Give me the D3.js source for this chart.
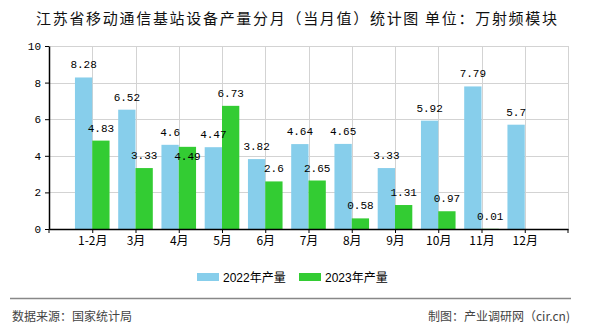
<!DOCTYPE html>
<html>
<head>
<meta charset="utf-8">
<script src="https://cdn.jsdelivr.net/npm/d3@7"></script>
<style>
  html, body { margin: 0; padding: 0; background: #fff; }
  svg { display: block; }
</style>
</head>
<body>
<svg id="chart" width="590" height="330"></svg>
<script>
// Monthly output of mobile base-station equipment in Jiangsu (10k RF modules)
const months = ["1-2月", "3月", "4月", "5月", "6月", "7月", "8月", "9月", "10月", "11月", "12月"];
const output2022 = [8.28, 6.52, 4.6, 4.47, 3.82, 4.64, 4.65, 3.33, 5.92, 7.79, 5.7];
const output2023 = [4.83, 3.33, 4.49, 6.73, 2.6, 2.65, 0.58, 1.31, 0.97, 0.01, null];
const seriesNames = ["2022年产量", "2023年产量"];
const seriesColors = ["#87CEEB", "#33CC33"];
const yTicks = [0, 2, 4, 6, 8, 10];

const titleText = "江苏省移动通信基站设备产量分月（当月值）统计图 单位：万射频模块";
const sourceText = "数据来源：国家统计局";
const creditText = "制图：产业调研网（cir.cn)";

const svg = d3.select("#chart");
const plot = { left: 49, right: 568, top: 46, bottom: 229 };
const cjk = "'Noto Sans CJK SC', 'Noto Sans', sans-serif";
const mono = "'Liberation Mono', 'DejaVu Sans Mono', monospace";

const x = d3.scalePoint().domain(months).range([plot.left, plot.right]).padding(1);
const y = d3.scaleLinear().domain([0, 10]).range([plot.bottom, plot.top]);
const step = x.step();
const barW = step * 0.4;

// title
svg.append("text")
  .attr("x", 36).attr("y", 24)
  .attr("textLength", 521).attr("lengthAdjust", "spacing")
  .style("font-family", cjk).style("font-size", "15px").attr("fill", "#111")
  .text(titleText);

// grid
const grid = svg.append("g");
grid.selectAll("line.h").data(yTicks.filter(d => d > 0)).join("line")
  .attr("x1", plot.left).attr("x2", plot.right)
  .attr("y1", d => Math.round(y(d)) + 0.5).attr("y2", d => Math.round(y(d)) + 0.5)
  .attr("stroke", "#d3d3d3").attr("stroke-width", 1);
const vPos = months.map(m => x(m)).concat([plot.right]);
grid.selectAll("line.v").data(vPos).join("line")
  .attr("x1", d => Math.round(d) + 0.5).attr("x2", d => Math.round(d) + 0.5)
  .attr("y1", plot.top).attr("y2", plot.bottom)
  .attr("stroke", "#d3d3d3").attr("stroke-width", 1);

// bars
const series = [output2022, output2023];
series.forEach((vals, si) => {
  svg.append("g").selectAll("rect")
    .data(months.map((m, i) => ({ m, v: vals[i] })).filter(d => d.v != null))
    .join("rect")
    .attr("x", d => x(d.m) + (si === 0 ? -barW : 0))
    .attr("width", barW)
    .attr("y", d => y(d.v))
    .attr("height", d => y(0) - y(d.v))
    .attr("fill", seriesColors[si]);
});

// value labels; a green label that would collide with the blue one drops below it
const labels = [];
months.forEach((m, i) => {
  const bY = y(output2022[i]) - 9;
  labels.push({ x: x(m) - barW / 2, y: bY, t: output2022[i] });
  if (output2023[i] != null) {
    let gY = y(output2023[i]) - 9;
    const gx = x(m) + barW / 2;
    if (Math.abs(gY - bY) < 16) gY = bY + 24;
    labels.push({ x: gx, y: gY, t: output2023[i] });
  }
});
svg.append("g").selectAll("text").data(labels).join("text")
  .attr("x", d => d.x).attr("y", d => d.y)
  .attr("text-anchor", "middle")
  .style("font-family", mono).style("font-size", "11px").attr("fill", "#000")
  .text(d => String(d.t));

// axes
const yAxis = svg.append("g").attr("transform", `translate(${plot.left},0)`)
  .call(d3.axisLeft(y).tickValues(yTicks).tickSize(4).tickSizeOuter(0).tickFormat(d3.format("d")));
yAxis.select(".domain").attr("stroke", "#000").attr("stroke-width", 1.5);
yAxis.selectAll(".tick line").attr("stroke", "#000");
yAxis.selectAll(".tick text").attr("x", -8)
  .style("font-family", mono).style("font-size", "11px").attr("fill", "#000");

const xAxis = svg.append("g").attr("transform", `translate(0,${plot.bottom})`)
  .call(d3.axisBottom(x).tickSize(4).tickSizeOuter(0));
xAxis.select(".domain").attr("stroke", "#000").attr("stroke-width", 1.5);
xAxis.selectAll(".tick line").attr("stroke", "#000");
xAxis.selectAll(".tick text").attr("y", 7)
  .style("font-family", cjk).style("font-size", "12px").attr("fill", "#000");
// boundary ticks at both plot edges
xAxis.selectAll("line.edge").data([plot.left, plot.right]).join("line")
  .attr("class", "edge")
  .attr("x1", d => d).attr("x2", d => d).attr("y1", 0).attr("y2", 4)
  .attr("stroke", "#000");

// legend
const legendX = [197, 299];
const lg = svg.append("g");
seriesNames.forEach((name, i) => {
  lg.append("rect").attr("x", legendX[i]).attr("y", 273).attr("width", 22).attr("height", 8)
    .attr("fill", seriesColors[i]);
  lg.append("text").attr("x", legendX[i] + 26).attr("y", 281.5)
    .style("font-family", "'Liberation Sans', 'Noto Sans CJK SC', sans-serif")
    .style("font-size", "12px").attr("fill", "#000").text(name);
});

// footer
svg.append("line").attr("x1", 10).attr("x2", 571).attr("y1", 298.5).attr("y2", 298.5)
  .attr("stroke", "#888").attr("stroke-width", 1.5);
svg.append("text").attr("x", 12).attr("y", 321)
  .style("font-family", cjk).style("font-size", "12px").attr("fill", "#444").text(sourceText);
svg.append("text").attr("x", 570).attr("y", 321).attr("text-anchor", "end")
  .style("font-family", cjk).style("font-size", "12px").attr("fill", "#444").text(creditText);
</script>
</body>
</html>
